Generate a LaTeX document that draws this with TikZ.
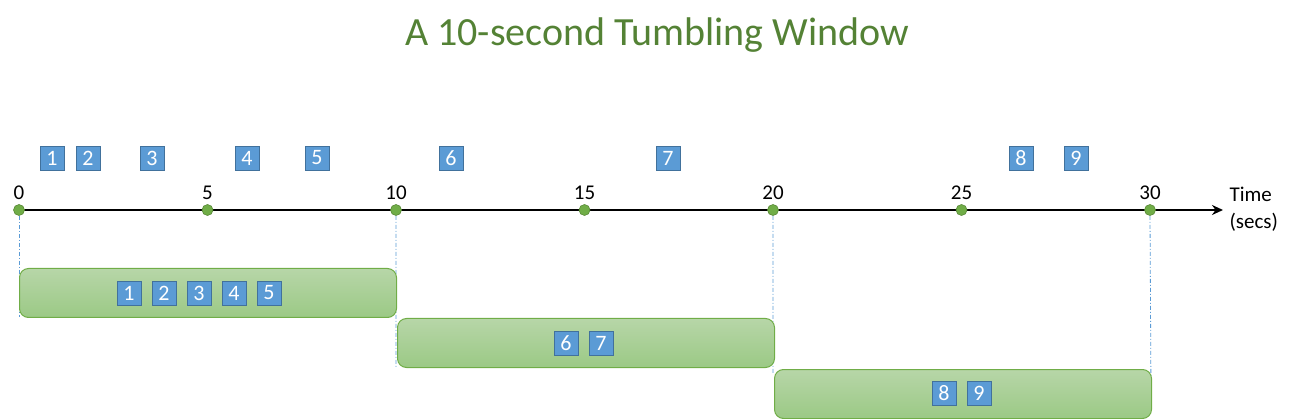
\documentclass[tikz,border=0pt]{standalone}
\usepackage{fontspec}
\setmainfont{Carlito}
\usetikzlibrary{positioning, arrows.meta, calc}

\definecolor{titlegreen}{HTML}{548235}
\definecolor{dotgreen}{HTML}{70AD47}
\definecolor{wintop}{HTML}{B7D6A8}
\definecolor{winbot}{HTML}{9BC985}
\definecolor{evfill}{HTML}{5B9BD5}
\definecolor{evline}{HTML}{41719C}

\tikzset{
  tickdot/.style={circle, fill=dotgreen, draw=dotgreen!80!black, line width=0.6pt, inner sep=0pt, minimum size=11pt},
  event/.style={rectangle, fill=evfill, draw=evline, line width=0.8pt, minimum size=24pt, inner sep=0pt, text=white, font=\fontsize{22}{22}\selectfont},
  window/.style={rectangle, rounded corners=9pt, top color=wintop, bottom color=winbot, draw=dotgreen, line width=1pt, minimum width=377pt, minimum height=49pt, inner sep=0pt},
  boundary/.style={evfill, line width=0.8pt, dash pattern=on 4pt off 2pt on 1pt off 2pt},
}

\begin{document}
\begin{tikzpicture}[x=1pt, y=-1pt]
  \useasboundingbox (0,0) rectangle (1295,419);

  % Title
  \node[text=titlegreen, font=\fontsize{40}{40}\selectfont] (title) at (657,35) {A 10-second Tumbling Window};

  % Time axis
  \coordinate (axisstart) at (19,210);
  \coordinate (axisend) at (1223,210);
  \draw[line width=2.6pt, -{Stealth[length=11pt, width=10pt]}] (axisstart) -- (axisend);
  \node[anchor=west, align=left, font=\fontsize{21}{27}\selectfont] (timelabel) at (1226,209) {Time\\(secs)};

  % Ticks every 5 seconds
  \foreach \s in {0,5,...,30} {
    \node[tickdot] (t\s) at ({19+37.7*\s},210) {};
    \node[above=1pt of t\s, font=\fontsize{21}{21}\selectfont] (l\s) {\s};
  }

  % Window boundaries
  \coordinate (b0) at (19,317);
  \coordinate (b10) at (396,368);
  \coordinate (b20) at (773,374);
  \coordinate (b30) at (1151,394);
  \foreach \s in {0,10,20,30}
    \draw[boundary] (t\s.south) -- (b\s);

  % Windows
  \node[window, anchor=north west] (w1) at (19,268) {};
  \node[window, anchor=north west] (w2) at (397,318) {};
  \node[window, anchor=north west] (w3) at (774,369) {};

  % Events on the time line
  \foreach \n/\x in {1/52, 2/88, 3/152, 4/247, 5/317, 6/451, 7/668, 8/1021, 9/1076}
    \node[event] (e\n) at (\x,158) {\n};

  % Events grouped in windows
  \foreach \n/\x in {1/129, 2/164, 3/199, 4/234, 5/269}
    \node[event] (a\n) at (\x,293) {\n};
  \foreach \n/\x in {6/566, 7/601}
    \node[event] (b\n) at (\x,343) {\n};
  \foreach \n/\x in {8/944, 9/979}
    \node[event] (c\n) at (\x,393) {\n};
\end{tikzpicture}
\end{document}
